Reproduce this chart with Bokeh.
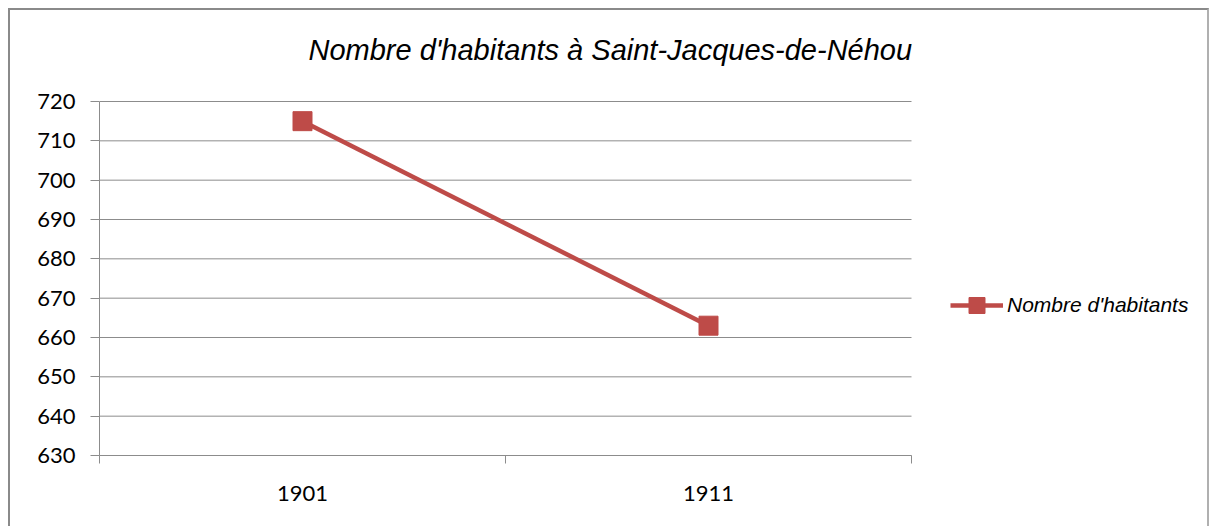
from bokeh.plotting import figure
from bokeh.models import Range1d, FixedTicker, Legend, LegendItem, ColumnDataSource, Label
from bokeh.embed import file_html
from bokeh.resources import INLINE

categories = ["1901", "1911"]
population = [715, 663]
y_ticks = [630, 640, 650, 660, 670, 680, 690, 700, 710, 720]
title_text = "Nombre d'habitants à Saint-Jacques-de-Néhou"
series_name = "Nombre d'habitants"

RED = "#BE4B48"
GRAY = "#8c8c8c"

W, H = 1201, 518
LEFT, RIGHT, TOP, BOTTOM = 89, 1, 1, 73
PLOT_W = 812          # pixel width of the category area
PLOT_H = 354          # pixel height of the 630..720 value area
FRAME_W = W - LEFT - RIGHT
FRAME_H = H - TOP - BOTTOM
n = len(categories)
y_min, y_max = min(y_ticks), max(y_ticks)

xpos = [i + 0.5 for i in range(n)]
src = ColumnDataSource(dict(x=xpos, y=population))

p = figure(width=W, height=H, output_backend="svg", toolbar_location=None,
           x_range=Range1d(0, n * FRAME_W / PLOT_W),
           y_range=Range1d(y_min, y_min + (y_max - y_min) * FRAME_H / PLOT_H),
           min_border_left=LEFT, min_border_right=RIGHT, min_border_top=TOP,
           min_border_bottom=BOTTOM)
p.styles = {"margin-left": "8px", "margin-top": "8px",
            "border-left": "2px solid #8a8a8a", "border-top": "2px solid #8a8a8a",
            "border-right": "2px solid #b0b0b0"}
p.outline_line_color = None
p.background_fill_color = "white"
p.border_fill_color = "white"

# horizontal gridlines restricted to the category area
p.segment(x0=[0] * len(y_ticks), x1=[n] * len(y_ticks), y0=y_ticks, y1=y_ticks,
          line_color=GRAY, line_width=1, level="underlay")

# y axis
p.yaxis.ticker = FixedTicker(ticks=y_ticks)
p.yaxis.bounds = (y_min, y_max)
p.yaxis.axis_line_color = GRAY
p.yaxis.major_tick_line_color = GRAY
p.yaxis.major_tick_out = 9
p.yaxis.major_tick_in = 0
p.yaxis.minor_tick_line_color = None
p.yaxis.major_label_standoff = 15
p.yaxis.major_label_text_font = "Lato"
p.yaxis.major_label_text_font_size = "22px"
p.yaxis.major_label_text_color = "#000000"

# x axis: labels at category centres, ticks at boundaries
p.xaxis.ticker = FixedTicker(ticks=xpos, minor_ticks=list(range(n + 1)))
p.xaxis.major_label_overrides = {x: c for x, c in zip(xpos, categories)}
p.xaxis.bounds = (0, n)
p.xaxis.axis_line_color = GRAY
p.xaxis.major_tick_line_color = None
p.xaxis.minor_tick_line_color = GRAY
p.xaxis.minor_tick_out = 8
p.xaxis.minor_tick_in = 0
p.xaxis.major_tick_out = 8
p.xaxis.major_label_standoff = 22
p.xaxis.major_label_text_font = "Lato"
p.xaxis.major_label_text_font_size = "22px"
p.xaxis.major_label_text_color = "#000000"

p.xgrid.grid_line_color = None
p.ygrid.grid_line_color = None

ln = p.line("x", "y", source=src, line_color=RED, line_width=4.5)
sc = p.scatter("x", "y", source=src, marker="square", size=19,
               fill_color=RED, line_color=RED)

# chart title (placed in the frame's upper margin)
title = Label(x=209 * n / PLOT_W, y=y_max + 52 * (y_max - y_min) / PLOT_H,
              text=title_text, text_font="Liberation Sans", text_font_style="italic",
              text_font_size="29px", text_color="#000000",
              text_align="left", text_baseline="alphabetic")
p.add_layout(title)

legend = Legend(items=[LegendItem(label=series_name, renderers=[ln, sc])],
                location=(851, 130), orientation="vertical",
                glyph_width=53, glyph_height=40, label_standoff=4,
                padding=0, margin=0, border_line_color=None,
                background_fill_alpha=0,
                label_text_font="Liberation Sans", label_text_font_style="italic",
                label_text_font_size="21px", label_text_color="#000000")
p.add_layout(legend, "center")

open("out.html", "w").write(file_html(p, INLINE))
